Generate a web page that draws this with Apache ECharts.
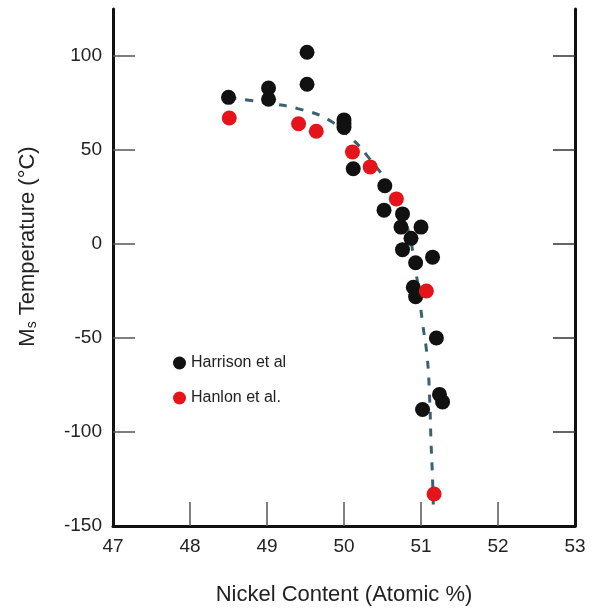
<!DOCTYPE html>
<html>
<head>
<meta charset="utf-8">
<script src="https://cdn.jsdelivr.net/npm/echarts@6/dist/echarts.min.js"></script>
<style>
  html, body { margin: 0; padding: 0; background: #fff; }
  #main { width: 592px; height: 611px; }
</style>
</head>
<body>
<div id="main"></div>
<script>
// Harrison et al (black) : [Ni at.%, Ms °C]
var harrison = [
  [48.50, 78], [49.02, 83], [49.02, 77], [49.52, 102], [49.52, 85],
  [50.00, 66], [50.00, 64], [50.00, 62], [50.12, 40], [50.53, 31],
  [50.52, 18], [50.76, 16], [50.74, 9], [51.00, 9], [50.87, 3],
  [50.76, -3], [51.15, -7], [50.93, -10], [50.90, -23], [50.93, -28],
  [51.20, -50], [51.24, -80], [51.28, -84], [51.02, -88]
];
// Hanlon et al. (red)
var hanlon = [
  [48.51, 67], [49.41, 64], [49.64, 60], [50.11, 49], [50.34, 41],
  [50.68, 24], [51.07, -25], [51.17, -133]
];
// dashed trend curve
var trend = [
  [48.5, 78], [49.0, 75], [49.4, 72], [49.8, 66], [50.1, 56],
  [50.3, 47], [50.6, 30], [50.8, 12], [50.93, -14], [51.02, -42],
  [51.08, -60], [51.11, -80], [51.13, -105], [51.15, -125], [51.16, -140]
];
var xTicks = [47, 48, 49, 50, 51, 52, 53];
var yTicks = [-150, -100, -50, 0, 50, 100];
var yInnerTicks = [-100, -50, 0, 50, 100];
var xInnerTicks = [48, 49, 50, 51, 52];

var chart = echarts.init(document.getElementById('main'));

var font = 'Liberation Sans, Arial, Helvetica, sans-serif';

var option = {
  backgroundColor: '#fff',
  animation: false,
  grid: { left: 113, right: 17, top: 9, bottom: 78, containLabel: false },
  legend: {
    data: ['Harrison et al', 'Hanlon et al.'],
    orient: 'vertical',
    left: 168,
    top: 350,
    icon: 'circle',
    itemWidth: 13,
    itemHeight: 13,
    itemGap: 19,
    textStyle: { fontFamily: font, fontSize: 16, color: '#222' }
  },
  xAxis: {
    type: 'value',
    position: 'bottom',
    min: 47, max: 53, interval: 1,
    name: 'Nickel Content (Atomic %)',
    nameLocation: 'middle',
    nameGap: 58,
    nameTextStyle: { fontFamily: font, fontSize: 22, color: '#222' },
    axisLine: { show: true, onZero: false, lineStyle: { color: '#111', width: 3 } },
    axisTick: {
      show: true, inside: true, length: 24,
      customValues: xInnerTicks,
      lineStyle: { color: '#555', width: 1.5 }
    },
    axisLabel: {
      customValues: xTicks,
      margin: 11,
      fontFamily: font, fontSize: 19, color: '#222'
    },
    splitLine: { show: false }
  },
  yAxis: [{
    type: 'value',
    min: -150, max: 125,
    position: 'left',
    name: '{m|M}{s|s}{m| Temperature (°C)}',
    nameLocation: 'middle',
    nameGap: 74,
    nameRotate: 90,
    nameTextStyle: {
      padding: [0, 0, 0, 42],
      rich: {
        m: { fontFamily: font, fontSize: 22, color: '#222' },
        s: { fontFamily: font, fontSize: 14, color: '#222', verticalAlign: 'bottom', padding: [8, 0, 0, 0] }
      }
    },
    axisLine: { show: true, onZero: false, lineStyle: { color: '#111', width: 3 } },
    axisTick: {
      show: true, inside: true, length: 22,
      customValues: yInnerTicks,
      lineStyle: { color: '#555', width: 1.5 }
    },
    axisLabel: {
      customValues: yTicks,
      margin: 11,
      fontFamily: font, fontSize: 19, color: '#222'
    },
    splitLine: { show: false }
  }, {
    type: 'value',
    min: -150, max: 125,
    position: 'right',
    axisLine: { show: true, onZero: false, lineStyle: { color: '#111', width: 3 } },
    axisTick: {
      show: true, inside: true, length: 22,
      customValues: yInnerTicks,
      lineStyle: { color: '#333', width: 1.5 }
    },
    axisLabel: { show: false },
    splitLine: { show: false }
  }],
  series: [{
    name: 'trend',
    type: 'line',
    data: trend,
    smooth: true,
    symbol: 'none',
    z: 1,
    lineStyle: { color: '#3b6070', width: 3, type: [8, 9] }
  }, {
    name: 'Harrison et al',
    type: 'scatter',
    data: harrison,
    symbolSize: 15,
    z: 3,
    itemStyle: { color: '#111', opacity: 1 }
  }, {
    name: 'Hanlon et al.',
    type: 'scatter',
    data: hanlon,
    symbolSize: 15,
    z: 4,
    itemStyle: { color: '#e5141b', opacity: 1 }
  }]
};

chart.setOption(option);
</script>
</body>
</html>
